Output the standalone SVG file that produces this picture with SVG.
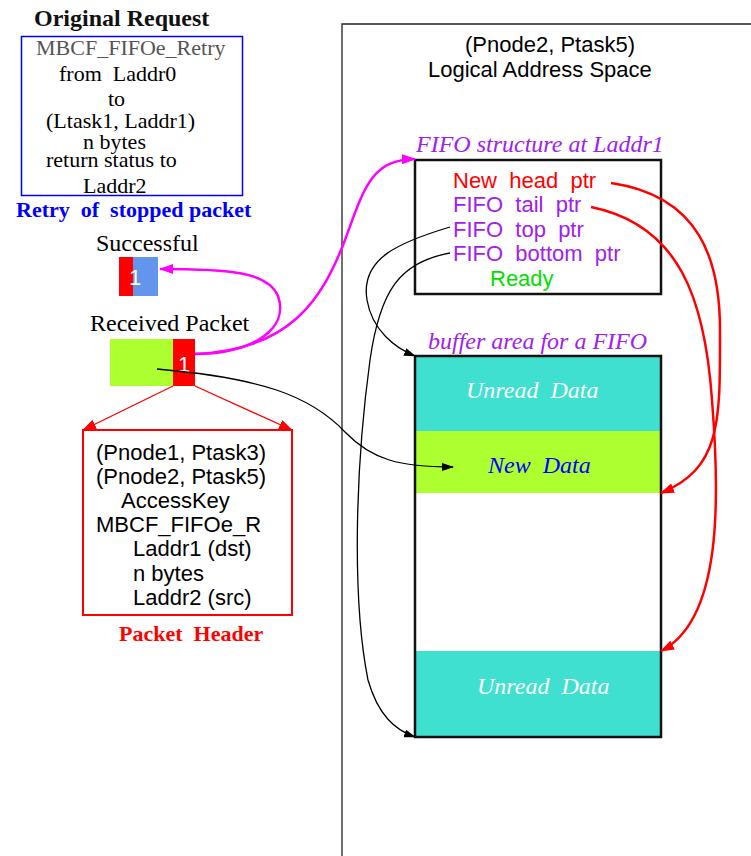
<svg xmlns="http://www.w3.org/2000/svg" width="751" height="856" viewBox="0 0 751 856">
<style>
.serif{font-family:"Liberation Serif","Times New Roman",serif}
.sans{font-family:"Liberation Sans",Arial,sans-serif}
.t22{font-size:22px}
.t24{font-size:24px}
.it{font-style:italic}
.b{font-weight:bold}
.purple{fill:#a020f0}
.blk{fill:#000}
</style>
<defs>
<marker id="amag" markerUnits="userSpaceOnUse" markerWidth="14" markerHeight="10" refX="13" refY="5" orient="auto"><path d="M0,0 L14,5 L0,10 Z" fill="#ff00ff"/></marker>
<marker id="ared" markerUnits="userSpaceOnUse" markerWidth="14" markerHeight="10" refX="13" refY="5" orient="auto"><path d="M0,0 L14,5 L0,10 Z" fill="#ff0000"/></marker>
<marker id="ablk" markerUnits="userSpaceOnUse" markerWidth="12" markerHeight="8" refX="11" refY="4" orient="auto"><path d="M0,0 L12,4 L0,8 Z" fill="#000"/></marker>
</defs>
<rect width="751" height="856" fill="#fff"/>

<g id="address-space">
<path d="M342,856 L342,24 L751,24" fill="none" stroke="#222" stroke-width="1.3"/>
<text class="sans t22" x="465" y="52" fill="#000">(Pnode2, Ptask5)</text>
<text class="sans t22" x="428" y="77" fill="#000">Logical Address Space</text>
</g>

<g id="original-request">
<text class="serif b t24" x="34" y="26" fill="#111">Original Request</text>
<rect x="21.5" y="36.5" width="221" height="159" fill="#fff" stroke="#0000ff" stroke-width="1.5"/>
<text class="serif t22" x="36" y="55" fill="#555">MBCF_FIFOe_Retry</text>
<text class="serif t22" x="59" y="81" fill="#000" xml:space="preserve">from  Laddr0</text>
<text class="serif t22" x="108" y="106" fill="#000">to</text>
<text class="serif t22" x="46" y="128" fill="#000">(Ltask1, Laddr1)</text>
<text class="serif t22" x="83" y="149" fill="#000">n bytes</text>
<text class="serif t22" x="46" y="167" fill="#000">return status to</text>
<text class="serif t22" x="83" y="193" fill="#000">Laddr2</text>
<text class="serif b t22" x="16" y="217" fill="#0000ff" xml:space="preserve">Retry  of  stopped packet</text>
</g>

<g id="successful">
<text class="serif t24" x="96" y="251" fill="#000">Successful</text>
<rect x="119" y="257" width="14" height="39" fill="#ff0000"/>
<rect x="133" y="257" width="25" height="39" fill="#6495ed"/>
<text class="sans" font-size="22" x="135" y="285" fill="#fff" text-anchor="middle">1</text>
</g>

<g id="received-packet">
<text class="serif t24" x="90" y="331" fill="#000">Received Packet</text>
<rect x="110" y="339" width="63" height="47" fill="#adff2f"/>
<rect x="173" y="339" width="22" height="47" fill="#ff0000"/>
<text class="sans" font-size="22" x="184" y="372" fill="#fff" text-anchor="middle">1</text>
</g>

<g id="packet-header">
<rect x="83" y="430" width="209" height="185" fill="#fff" stroke="#ff0000" stroke-width="2"/>
<text class="sans t22" x="96" y="460" fill="#000">(Pnode1, Ptask3)</text>
<text class="sans t22" x="96" y="484" fill="#000">(Pnode2, Ptask5)</text>
<text class="sans t22" x="121" y="508" fill="#000">AccessKey</text>
<text class="sans t22" x="96" y="532" fill="#000">MBCF_FIFOe_R</text>
<text class="sans t22" x="133" y="556" fill="#000">Laddr1 (dst)</text>
<text class="sans t22" x="133" y="581" fill="#000">n bytes</text>
<text class="sans t22" x="133" y="605" fill="#000">Laddr2 (src)</text>
<text class="serif b t22" x="119" y="641" fill="#ff0000" xml:space="preserve">Packet  Header</text>
</g>

<g id="fifo-structure">
<text class="serif it t24 purple" x="416" y="152">FIFO structure at Laddr1</text>
<rect x="415" y="160" width="246" height="134" fill="#fff" stroke="#111" stroke-width="2.5"/>
<text class="sans t22" x="453" y="188" fill="#ff0000" xml:space="preserve">New  head  ptr</text>
<text class="sans t22 purple" x="453" y="212" xml:space="preserve">FIFO  tail  ptr</text>
<text class="sans t22 purple" x="453" y="237" xml:space="preserve">FIFO  top  ptr</text>
<text class="sans t22 purple" x="453" y="261" xml:space="preserve">FIFO  bottom  ptr</text>
<text class="sans t22" x="490" y="286" fill="#00e000">Ready</text>
</g>

<g id="buffer-area">
<text class="serif it t24 purple" x="428" y="349">buffer area for a FIFO</text>
<rect x="415" y="356" width="246" height="75" fill="#40e0d0"/>
<rect x="415" y="431" width="246" height="62" fill="#adff2f"/>
<rect x="415" y="651" width="246" height="86" fill="#40e0d0"/>
<rect x="415" y="356" width="246" height="381" fill="none" stroke="#111" stroke-width="2.5"/>
<text class="serif it t24" x="466" y="398" fill="#fff" xml:space="preserve">Unread  Data</text>
<text class="serif it t24" x="488" y="473" fill="#0000ff" xml:space="preserve">New  Data</text>
<text class="serif it t24" x="477" y="694" fill="#fff" xml:space="preserve">Unread  Data</text>
</g>

<g id="connectors" fill="none">
<path d="M195,354 C250,354 290,330 278,296 C268,272 230,269 160,269" stroke="#ff00ff" stroke-width="2.5" marker-end="url(#amag)"/>
<path d="M195,354 C290,350 322,300 345,240 C365,185 372,160 415,159" stroke="#ff00ff" stroke-width="2.5" marker-end="url(#amag)"/>
<path d="M173,386 L83,430" stroke="#ff0000" stroke-width="1.3" marker-end="url(#ared)"/>
<path d="M195,386 L292,430" stroke="#ff0000" stroke-width="1.3" marker-end="url(#ared)"/>
<path d="M157,369 C260,378 310,395 345,432 C372,460 400,467 453,467" stroke="#000" stroke-width="1.3" marker-end="url(#ablk)"/>
<path d="M450,227 C400,242 360,258 367,300 C372,330 395,348 415,356" stroke="#000" stroke-width="1.3" marker-end="url(#ablk)"/>
<path d="M450,253 C400,262 380,290 370,360 C355,470 352,600 368,680 C378,715 395,730 415,737" stroke="#000" stroke-width="1.3" marker-end="url(#ablk)"/>
<path d="M611,183 C700,196 720,260 720,330 C720,420 722,468 661,493" stroke="#ff0000" stroke-width="2.5" marker-end="url(#ared)"/>
<path d="M591,207 C680,225 705,300 712,400 C720,500 722,620 661,651" stroke="#ff0000" stroke-width="2.5" marker-end="url(#ared)"/>
</g>
</svg>
